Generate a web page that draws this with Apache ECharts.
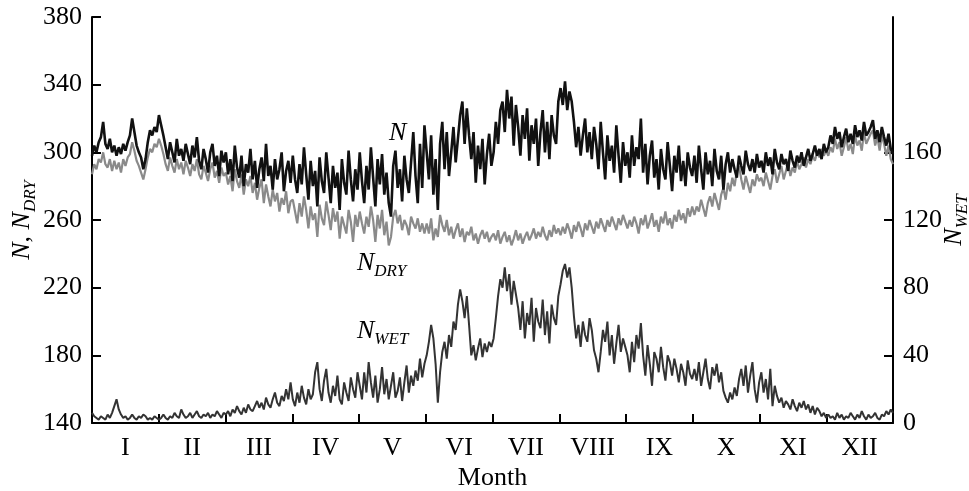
<!DOCTYPE html>
<html>
<head>
<meta charset="utf-8">
<script src="https://cdn.jsdelivr.net/npm/echarts@6/dist/echarts.min.js"></script>
<style>
  html, body { margin: 0; padding: 0; background: #fff; }
  #chart { width: 969px; height: 491px; }
</style>
</head>
<body>
<div id="chart"></div>
<script>
// month labels on the x axis
var monthLabels = ['I', 'II', 'III', 'IV', 'V', 'VI', 'VII', 'VIII', 'IX', 'X', 'XI', 'XII'];
var leftTicks = [140, 180, 220, 260, 300, 340, 380];
var rightTicks = [0, 40, 80, 120, 160];

// N, 30 values per month
var nAll = [
  298,304,300,306,309,318,305,302,308,300,304,298,303,299,305,301,306,310,320,312,304,300,297,290,296,306,313,310,315,312, // I
  322,316,310,303,296,306,300,294,308,298,302,295,305,299,293,304,297,309,295,290,302,296,288,300,305,292,298,286,301,294, // II
  300,287,296,283,304,291,285,298,280,293,288,302,284,295,279,290,297,283,305,286,292,278,296,284,290,300,277,289,295,282, // III
  298,284,276,293,281,303,287,272,295,280,289,268,297,283,276,300,285,270,292,279,288,266,296,282,275,301,284,271,290,278, // IV
  300,283,270,292,278,303,285,268,296,281,299,275,288,270,262,292,301,279,290,271,298,284,276,294,312,286,270,305,279,316, // V
  300,284,310,275,296,266,305,318,290,312,286,300,315,294,308,322,330,305,326,310,296,312,282,304,290,308,281,299,311,292, // VI
  300,318,305,325,330,312,337,320,333,304,328,315,298,322,308,326,295,316,305,320,292,312,325,300,318,296,322,310,305,330, // VII
  338,328,342,325,336,330,318,303,315,298,310,320,300,312,296,315,305,290,318,300,284,310,295,304,288,316,298,282,306,292, // VIII
  300,285,310,292,303,296,320,288,305,281,298,307,285,296,278,302,290,284,306,292,277,298,288,304,283,295,280,300,291,286, // IX
  298,282,304,290,278,300,287,295,280,302,289,284,298,278,293,300,288,296,290,285,298,292,287,301,293,289,296,288,299,291, // X
  295,288,300,292,297,287,302,294,290,299,293,296,289,301,295,291,298,294,300,292,297,302,295,299,304,298,302,296,305,300, // XI
  303,310,305,315,308,312,303,309,314,306,311,305,316,309,313,307,318,310,312,315,319,308,313,306,315,309,304,311,302,299  // XII
];

// N_DRY
var nDry = [
  287,293,290,296,294,300,293,291,296,289,295,290,294,288,296,292,297,299,306,301,295,292,288,284,290,297,302,300,305,303,
  308,304,299,293,289,297,292,288,296,290,294,287,295,291,286,293,289,296,287,284,292,288,283,290,294,285,289,282,291,286,
  288,281,286,277,290,283,279,287,275,284,280,286,276,282,272,279,284,270,281,274,268,278,271,276,265,273,269,277,264,271,
  272,265,258,270,262,274,266,255,268,260,264,250,269,261,257,271,263,254,267,259,265,249,262,257,252,266,259,247,263,256,
  265,258,252,262,256,268,260,247,263,255,266,251,259,245,250,262,266,258,263,254,260,257,251,262,258,255,261,253,258,252,
  258,252,261,248,255,250,263,257,253,260,251,256,249,254,258,250,255,247,253,251,256,248,252,246,251,254,249,253,247,250,
  252,248,254,246,250,253,247,251,245,249,254,248,252,246,250,253,248,251,255,249,253,250,256,251,248,254,250,257,252,255,
  251,256,252,258,254,249,257,253,259,255,250,258,254,260,256,252,259,255,261,257,253,260,256,262,258,254,261,257,263,259,
  255,260,256,262,258,252,261,257,263,255,259,264,256,260,253,262,258,265,257,261,255,263,259,266,260,264,258,267,262,268,
  263,268,265,272,267,262,270,274,268,276,271,266,275,279,272,282,277,285,280,289,292,284,278,286,281,276,284,280,287,283,
  285,280,288,283,278,286,290,282,287,292,284,289,294,286,291,288,295,290,293,297,291,296,293,298,295,300,297,302,298,301,
  298,303,300,308,302,306,298,303,309,301,305,299,310,304,307,301,312,305,308,311,313,304,309,301,310,305,298,304,296,293
];

// N_WET (right axis)
var nWet = [
  6,4,3,2,4,3,2,5,3,6,10,14,8,5,3,4,2,3,5,3,2,4,3,5,4,2,3,2,4,3,
  2,3,5,3,2,4,3,6,4,3,8,5,3,4,6,3,5,7,4,3,5,4,6,3,5,4,7,5,3,6,
  5,7,4,8,6,10,7,5,9,6,11,8,7,10,13,9,12,8,15,11,9,14,18,12,10,16,13,20,14,24,
  14,10,18,12,22,15,11,20,14,17,30,36,20,13,25,32,18,12,22,16,28,14,11,24,18,13,27,20,15,30,
  22,14,30,18,36,24,15,28,12,20,33,17,26,14,22,30,15,19,27,13,24,34,18,28,22,31,25,38,27,35,
  40,48,58,50,35,12,30,42,48,38,52,45,60,55,70,79,72,62,75,58,40,46,37,44,50,39,47,42,48,45,
  50,62,75,85,80,92,78,88,70,84,76,68,55,72,50,65,58,74,48,68,60,56,73,52,66,47,70,62,58,75,
  82,90,94,86,92,80,63,50,58,45,60,52,48,62,55,43,38,30,42,55,48,60,40,52,35,47,58,42,50,45,
  40,30,48,36,52,44,59,40,28,46,35,22,42,38,30,45,33,25,40,36,28,38,32,24,35,30,22,37,29,26,
  32,25,36,22,30,38,26,20,33,28,35,24,30,19,15,12,18,14,21,16,26,32,22,34,18,28,36,20,12,24,
  30,18,26,14,32,10,22,16,12,15,9,13,11,8,14,10,7,12,9,13,8,11,6,10,5,9,7,4,6,3,
  5,3,4,2,6,3,5,2,4,3,6,4,2,5,3,7,4,2,5,3,4,6,3,2,5,4,7,5,8,6
];

var FONT = "'Liberation Serif', 'DejaVu Serif', serif";

// day index -> month position on the x axis (0..12)
function toPairs(arr) {
  return arr.map(function (v, i) { return [i * 12 / (arr.length - 1), v]; });
}

var tickVals = [];
var labelVals = [];
for (var m = 0; m < 12; m++) {
  labelVals.push(m + 0.5);
  if (m > 0) tickVals.push(m);
}

var subRich = {
  n: { fontFamily: FONT, fontSize: 26, fontStyle: 'italic', color: '#000', verticalAlign: 'top', lineHeight: 32 },
  c: { fontFamily: FONT, fontSize: 26, color: '#000', verticalAlign: 'top', lineHeight: 32 },
  s: { fontFamily: FONT, fontSize: 17, fontStyle: 'italic', color: '#000', verticalAlign: 'top', lineHeight: 32, padding: [13, 0, 0, 0] }
};

var chart = echarts.init(document.getElementById('chart'), null, { renderer: 'canvas' });

var option = {
  animation: false,
  backgroundColor: '#fff',
  grid: { left: 92, right: 76, top: 17, bottom: 68, containLabel: false, outerBoundsMode: 'none' },
  xAxis: {
    type: 'value',
    min: 0,
    max: 12,
    interval: 1,
    name: 'Month',
    nameLocation: 'middle',
    nameGap: 42,
    nameMoveOverlap: false,
    nameTextStyle: { fontFamily: FONT, fontSize: 26, color: '#000' },
    axisLine: { lineStyle: { color: '#000', width: 2 } },
    axisTick: { inside: true, length: 9, lineStyle: { color: '#000', width: 2 }, customValues: tickVals },
    axisLabel: {
      customValues: labelVals,
      margin: 12,
      fontFamily: FONT,
      fontSize: 26,
      color: '#000',
      formatter: function (v) { return monthLabels[Math.floor(v)]; }
    },
    splitLine: { show: false }
  },
  yAxis: [
    {
      type: 'value',
      min: 140,
      max: 380,
      interval: 40,
      name: '{n|N}{c|, }{n|N}{s|DRY}',
      nameLocation: 'middle',
      nameGap: 51,
      nameMoveOverlap: false,
      nameTextStyle: { rich: subRich },
      axisLine: { show: true, lineStyle: { color: '#000', width: 2 } },
      axisTick: { inside: true, length: 9, lineStyle: { color: '#000', width: 2 }, customValues: leftTicks },
      axisLabel: { margin: 10, fontFamily: FONT, fontSize: 26, color: '#000', customValues: leftTicks },
      splitLine: { show: false }
    },
    {
      type: 'value',
      min: 0,
      max: 240,
      interval: 40,
      position: 'right',
      name: '{n|N}{s|WET}',
      nameLocation: 'middle',
      nameRotate: 90,
      nameGap: 48,
      nameMoveOverlap: false,
      nameTextStyle: { rich: subRich },
      axisLine: { show: true, lineStyle: { color: '#000', width: 2 } },
      axisTick: { inside: true, length: 9, lineStyle: { color: '#000', width: 2 }, customValues: rightTicks },
      axisLabel: { margin: 10, fontFamily: FONT, fontSize: 26, color: '#000', customValues: rightTicks },
      splitLine: { show: false }
    }
  ],
  series: [
    {
      name: 'N_DRY',
      type: 'line',
      yAxisIndex: 0,
      data: toPairs(nDry),
      showSymbol: false,
      lineStyle: { color: '#8a8a8a', width: 2.2 },
      z: 2
    },
    {
      name: 'N',
      type: 'line',
      yAxisIndex: 0,
      data: toPairs(nAll),
      showSymbol: false,
      lineStyle: { color: '#111', width: 2.6 },
      z: 3
    },
    {
      name: 'N_WET',
      type: 'line',
      yAxisIndex: 1,
      data: toPairs(nWet),
      showSymbol: false,
      lineStyle: { color: '#333', width: 2 },
      z: 4
    }
  ],
  graphic: [
    { type: 'text', left: 389, top: 120, style: { text: '{n|N}', rich: subRich } },
    { type: 'text', left: 357, top: 250, style: { text: '{n|N}{s|DRY}', rich: subRich } },
    { type: 'text', left: 357, top: 318, style: { text: '{n|N}{s|WET}', rich: subRich } }
  ]
};

chart.setOption(option);
</script>
</body>
</html>
